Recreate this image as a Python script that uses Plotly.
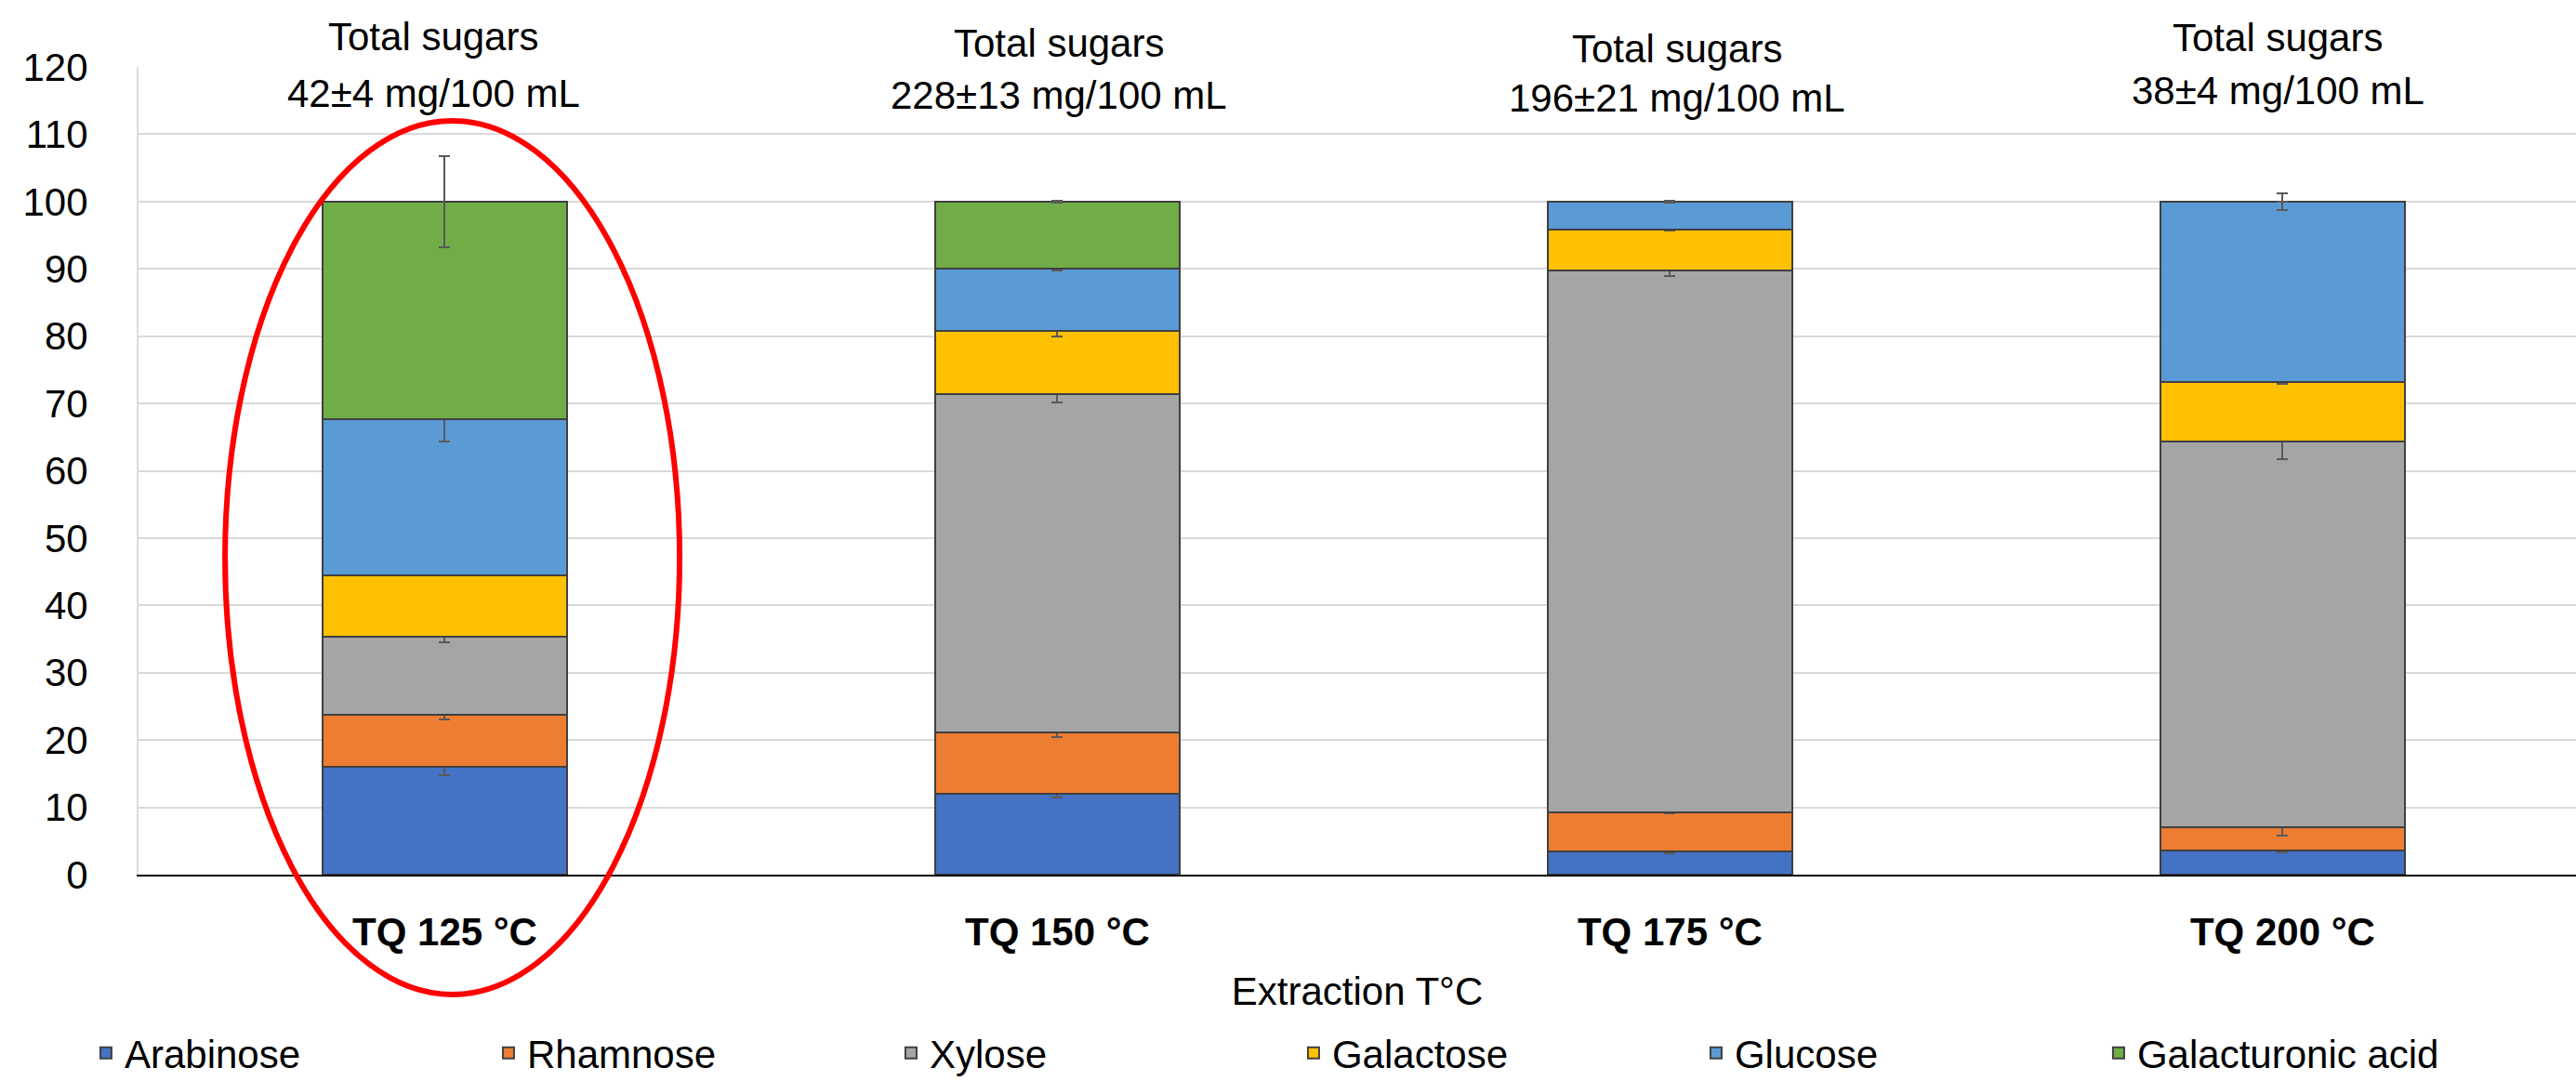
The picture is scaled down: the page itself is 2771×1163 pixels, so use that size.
import plotly.graph_objects as go

categories = ["TQ 125 °C", "TQ 150 °C", "TQ 175 °C", "TQ 200 °C"]
series_names = ["Arabinose", "Rhamnose", "Xylose", "Galactose", "Glucose", "Galacturonic acid"]

arabinose = [16.0, 12.0, 3.4, 3.6]
rhamnose = [7.8, 9.1, 5.8, 3.4]
xylose = [11.6, 50.3, 80.5, 57.3]
galactose = [9.1, 9.4, 6.1, 8.9]
glucose = [23.1, 9.2, 4.2, 26.8]
galacturonic = [32.4, 10.0, 0.0, 0.0]

arabinose_err = [1.2, 0.6, 0.2, 0.3]
rhamnose_err = [0.8, 0.7, 0.1, 1.2]
xylose_err = [0.9, 1.2, 0.8, 2.6]
galactose_err = [0.1, 0.8, 0.1, 0.3]
glucose_err = [3.2, 0.3, 0.1, 1.2]
galacturonic_err = [6.8, 0.1, 0.0, 0.0]

total_sugars = ["42±4 mg/100 mL", "228±13 mg/100 mL", "196±21 mg/100 mL", "38±4 mg/100 mL"]
y_ticks = [0, 10, 20, 30, 40, 50, 60, 70, 80, 90, 100, 110, 120]

values = [arabinose, rhamnose, xylose, galactose, glucose, galacturonic]
errors = [arabinose_err, rhamnose_err, xylose_err, galactose_err, glucose_err, galacturonic_err]
colors = ["#4472C4", "#ED7D31", "#A5A5A5", "#FFC000", "#5B9BD5", "#70AD47"]

FONT = "Liberation Sans, Arial, sans-serif"

fig = go.Figure()
for name, vals, errs, col in zip(series_names, values, errors, colors):
    fig.add_trace(go.Bar(
        name=name, x=categories, y=vals, width=0.4,
        marker=dict(color=col, line=dict(color="#404040", width=2)),
        error_y=dict(type="data", array=errs, visible=True, color="#595959",
                     thickness=2, width=6),
    ))

# annotation placement (styles, paper coordinates)
line1_y = [1.037, 1.029, 1.023, 1.036]
line2_y = [0.967, 0.965, 0.962, 0.971]
x_shift = [-12, 2, 8, -5]
annotations = []
for cat, txt, y1, y2, xs in zip(categories, total_sugars, line1_y, line2_y, x_shift):
    annotations.append(dict(x=cat, xref="x", y=y1, yref="paper", text="Total sugars",
                            showarrow=False, xshift=xs, yanchor="middle",
                            font=dict(family=FONT, size=42, color="black")))
    annotations.append(dict(x=cat, xref="x", y=y2, yref="paper", text=txt,
                            showarrow=False, xshift=xs, yanchor="middle",
                            font=dict(family=FONT, size=42, color="black")))

fig.update_layout(
    width=2771, height=1163,
    margin=dict(l=149, r=0, t=72, b=222, autoexpand=False),
    paper_bgcolor="white", plot_bgcolor="white",
    barmode="stack",
    font=dict(family=FONT, size=42, color="black"),
    showlegend=True,
    legend=dict(orientation="h", x=-0.021, xanchor="left", y=-0.221, yanchor="middle",
                entrywidth=388, entrywidthmode="pixels", traceorder="normal",
                font=dict(family=FONT, size=42, color="black"), bgcolor="rgba(0,0,0,0)"),
    annotations=annotations,
    shapes=[dict(type="circle", xref="paper", yref="paper",
                 x0=0.0355, x1=0.2220, y0=-0.1484, y1=0.9333,
                 line=dict(color="#FF0000", width=6), fillcolor="rgba(0,0,0,0)",
                 layer="above")],
)
fig.update_xaxes(
    range=[-0.5, 3.479], showgrid=False, showline=True, linecolor="black", linewidth=2,
    ticks="", tickfont=dict(family=FONT, size=42, color="black", weight="bold"),
    ticklabelstandoff=24, automargin=False,
    title=dict(text="Extraction T°C", font=dict(family=FONT, size=42, color="black"), standoff=26),
)
fig.update_yaxes(
    range=[0, 120], tickvals=y_ticks, showgrid=True, gridcolor="#D9D9D9", gridwidth=2,
    showline=True, linecolor="#D9DCE8", linewidth=2, zeroline=False, automargin=False,
    ticks="", ticklabelstandoff=44,
    tickfont=dict(family=FONT, size=42, color="black"),
)

fig.write_html("out.html",
               config={"displayModeBar": False},
               post_script="document.body.style.margin='0';document.body.style.overflow='hidden';")
